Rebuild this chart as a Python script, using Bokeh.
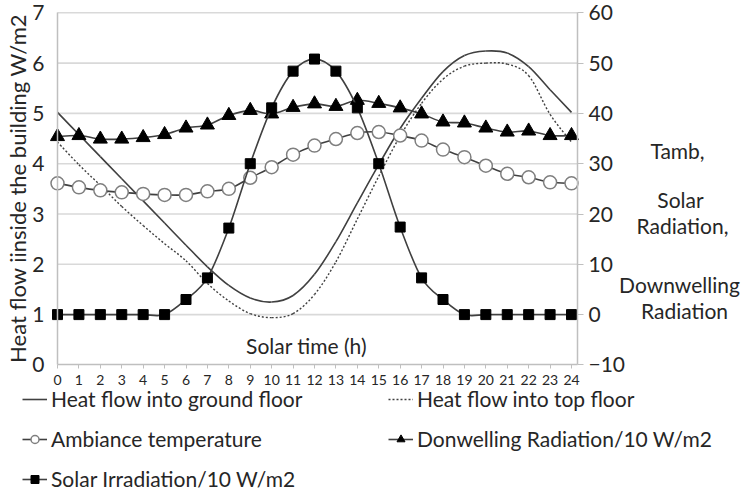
import numpy as np
from bokeh.plotting import figure
from bokeh.models import (Range1d, LinearAxis, Label, Legend, LegendItem,
                          FixedTicker, ColumnDataSource)
from bokeh.embed import file_html
from bokeh.resources import INLINE

# ---------------- data ----------------
hours = list(range(25))
ground_floor = [5.02, 4.58, 4.14, 3.70, 3.26, 2.82, 2.38, 1.95, 1.58, 1.33, 1.25, 1.38, 1.80,
                2.45, 3.22, 3.98, 4.70, 5.30, 5.83, 6.15, 6.24, 6.20, 5.93, 5.47, 5.02]
top_floor = [4.43, 3.98, 3.57, 3.15, 2.77, 2.41, 2.07, 1.62, 1.27, 1.02, 0.94, 1.02, 1.40,
             2.05, 2.90, 3.75, 4.55, 5.20, 5.68, 5.94, 6.00, 5.98, 5.75, 4.98, 4.43]
ambiance = [26.1, 25.3, 24.7, 24.3, 24.0, 23.8, 23.8, 24.5, 25.0, 27.2, 29.3, 31.8, 33.6,
            34.9, 36.1, 36.3, 35.6, 34.6, 32.8, 31.3, 29.6, 28.0, 27.3, 26.3, 26.1]
downwelling = [35.4, 35.6, 34.9, 34.9, 35.2, 35.8, 37.1, 37.7, 39.6, 40.6, 39.9, 41.2, 41.9,
               41.4, 42.6, 42.0, 41.1, 39.9, 38.3, 38.1, 37.1, 36.3, 36.5, 35.6, 35.6]
solar = [0, 0, 0, 0, 0, 0, 3.0, 7.3, 17.2, 30.0, 41.1, 48.4, 50.8,
         48.4, 41.1, 30.0, 17.4, 7.3, 3.0, 0, 0, 0, 0, 0, 0]

x_ticks = list(range(25))
left_ticks = list(range(8))
right_ticks = list(range(-10, 61, 10))

labels = ["Heat flow into ground floor", "Heat flow into top floor", "Ambiance temperature",
          "Donwelling Radiation/10 W/m2", "Solar Irradiation/10 W/m2"]
y_title = "Heat flow iinside the building  W/m2"
x_title = "Solar time (h)"
right_title = ["Tamb,", "Solar", "Radiation,", "Downwelling", "Radiation"]

# ---------------- layout (pixels of the 741x494 page) ----------------
W, H = 741, 494
PX_X0, PX_X24 = 57.0, 571.0        # pixel of hour 0 and hour 24
PX_Y0, PX_Y7 = 364.4, 12.3         # pixel of left value 0 and 7
X_MAX = 24.28                      # right edge of plot area (hours)
sx = (PX_X24 - PX_X0) / 24.0
sy = (PX_Y0 - PX_Y7) / 7.0


def hx(px):   # page pixel -> hours
    return (px - PX_X0) / sx


def vy(py):   # page pixel -> left-axis value
    return (PX_Y0 - py) / sy


FONT = "Lato"
LINE = "#404040"
GRID = "#d9d9d9"
AXC = "#bfbfbf"
TXT = "#262626"
FS = "21px"


def smooth_source(x, y):
    """Bezier segments (Catmull-Rom, like Excel's smoothed line) through the data points."""
    x = np.asarray(x, float)
    y = np.asarray(y, float)
    xp = np.concatenate([[x[0]], x, [x[-1]]])
    yp = np.concatenate([[y[0]], y, [y[-1]]])
    i = np.arange(len(x) - 1)
    return ColumnDataSource(dict(
        x0=xp[i + 1], y0=yp[i + 1], x1=xp[i + 2], y1=yp[i + 2],
        cx0=xp[i + 1] + (xp[i + 2] - xp[i]) / 6, cy0=yp[i + 1] + (yp[i + 2] - yp[i]) / 6,
        cx1=xp[i + 2] - (xp[i + 3] - xp[i + 1]) / 6, cy1=yp[i + 2] - (yp[i + 3] - yp[i + 1]) / 6,
    ))


p = figure(width=W, height=H, output_backend="svg", toolbar_location=None, title=None,
           x_range=Range1d(hx(0), hx(W)), y_range=Range1d(vy(H), vy(0)),
           min_border=0, background_fill_color="white", border_fill_color="white")
p.outline_line_color = None
p.extra_y_ranges = {"right": Range1d(vy(H) * 10 - 10, vy(0) * 10 - 10)}
p.xgrid.visible = False
p.ygrid.visible = False

# horizontal gridlines over the plot area only
gl = left_ticks[1:]
p.segment(x0=[0] * len(gl), x1=[X_MAX] * len(gl), y0=gl, y1=gl, line_color=GRID, line_width=1.6)

# axes
p.xaxis.fixed_location = 0
p.xaxis.bounds = (0, X_MAX)
p.xaxis.ticker = FixedTicker(ticks=x_ticks)
p.yaxis.fixed_location = 0
p.yaxis.bounds = (0, 7)
p.yaxis.ticker = FixedTicker(ticks=left_ticks)
for ax in (p.xaxis[0], p.yaxis[0]):
    ax.axis_line_color = AXC
    ax.axis_line_width = 1.5
    ax.minor_tick_line_color = None
    ax.major_label_text_font = FONT
    ax.major_label_text_color = TXT
p.xaxis.major_tick_line_color = AXC
p.xaxis.major_tick_in = 0
p.xaxis.major_tick_out = 4
p.xaxis.major_label_text_font_size = "14px"
p.xaxis.major_label_standoff = 6
p.yaxis.major_tick_line_color = None
p.yaxis.major_label_text_font_size = FS
p.yaxis.major_label_standoff = 7

r_axis = LinearAxis(y_range_name="right", ticker=FixedTicker(ticks=right_ticks),
                    fixed_location=X_MAX, bounds=(-10, 60))
r_axis.axis_line_color = AXC
r_axis.axis_line_width = 1.5
r_axis.major_tick_line_color = AXC
r_axis.major_tick_in = 0
r_axis.major_tick_out = 6
r_axis.minor_tick_line_color = None
r_axis.major_label_text_font = FONT
r_axis.major_label_text_font_size = FS
r_axis.major_label_text_color = TXT
r_axis.major_label_standoff = 5
p.add_layout(r_axis, "right")

# series
BZ = dict(x0="x0", y0="y0", x1="x1", y1="y1", cx0="cx0", cy0="cy0", cx1="cx1", cy1="cy1")
r_ground = p.bezier(source=smooth_source(hours, ground_floor), line_color=LINE, line_width=1.6, **BZ)
r_top = p.bezier(source=smooth_source(hours, top_floor), line_color=LINE, line_width=1.4,
                 line_dash="2 2", **BZ)

r_amb_l = p.bezier(source=smooth_source(hours, ambiance), line_color=LINE, line_width=1.6,
                   y_range_name="right", **BZ)
r_amb_m = p.scatter(hours, ambiance, marker="circle", size=13, fill_color="white",
                    line_color="#7f7f7f", line_width=1.5, y_range_name="right")

r_dw_l = p.bezier(source=smooth_source(hours, downwelling), line_color=LINE, line_width=1.6,
                  y_range_name="right", **BZ)
r_dw_m = p.scatter(hours, downwelling, marker="triangle", size=14, fill_color="black",
                   line_color="black", y_range_name="right")

r_sol_l = p.bezier(source=smooth_source(hours, solar), line_color=LINE, line_width=1.6,
                   y_range_name="right", **BZ)
r_sol_m = p.scatter(hours, solar, marker="square", size=10, fill_color="black",
                    line_color="black", y_range_name="right")

# titles as text
p.add_layout(Label(x=hx(17), y=vy(185), text=y_title, angle=np.pi / 2, text_align="center",
                   text_baseline="middle", text_font=FONT, text_font_size="22px", text_color=TXT))
p.add_layout(Label(x=hx(306), y=vy(345), text=x_title, text_align="center",
                   text_baseline="middle", text_font=FONT, text_font_size=FS, text_color=TXT))
rt_px = [(677, 150), (680, 199), (682, 225), (679, 284), (684, 310)]
for t, (px, py) in zip(right_title, rt_px):
    p.add_layout(Label(x=hx(px), y=vy(py), text=t, text_align="center", text_baseline="middle",
                       text_font=FONT, text_font_size=FS, text_color=TXT))

legend = Legend(items=[
    LegendItem(label=labels[0], renderers=[r_ground]),
    LegendItem(label=labels[1], renderers=[r_top]),
    LegendItem(label=labels[2], renderers=[r_amb_l, r_amb_m]),
    LegendItem(label=labels[3], renderers=[r_dw_l, r_dw_m]),
    LegendItem(label=labels[4], renderers=[r_sol_l, r_sol_m]),
], orientation="horizontal", ncols=2, location=(22, 3),
    glyph_width=25, glyph_height=20, label_height=20, label_width=322, label_standoff=4,
    spacing=15, padding=0, margin=0, border_line_color=None, background_fill_alpha=0,
    label_text_font=FONT, label_text_font_size=FS, label_text_color=TXT)
p.add_layout(legend, "center")

open("out.html", "w").write(file_html(p, INLINE))
